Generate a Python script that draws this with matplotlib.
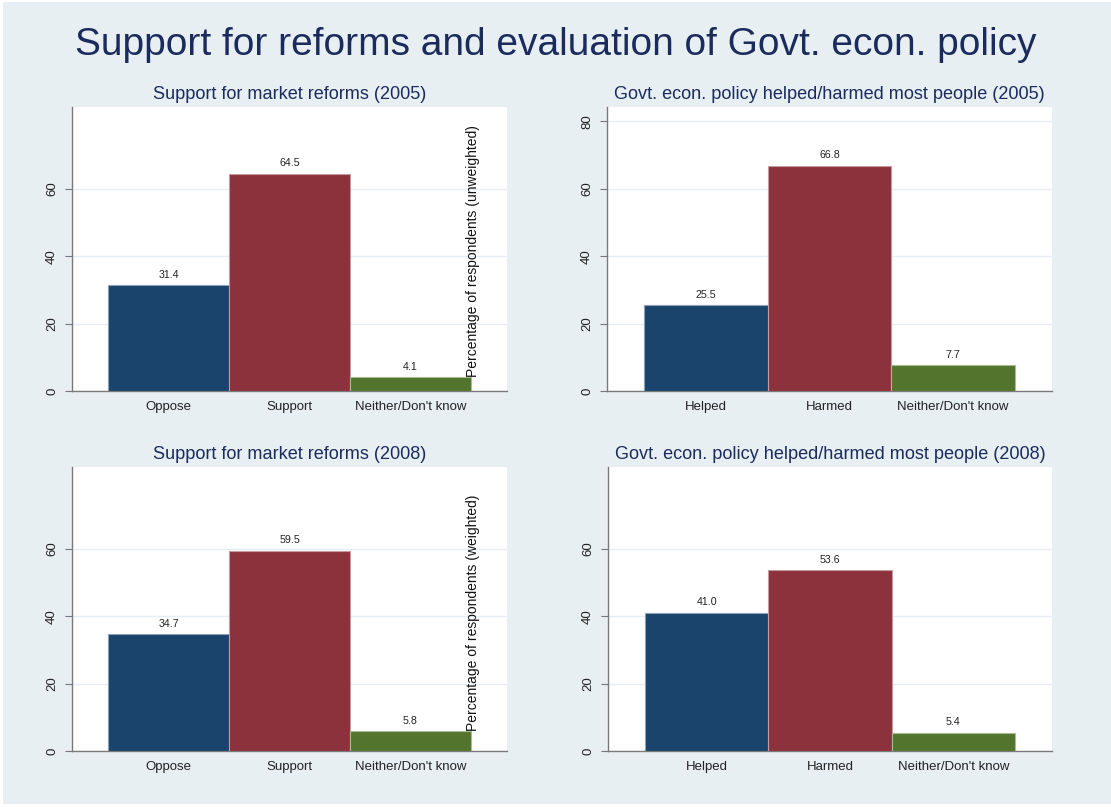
import matplotlib
matplotlib.use('Agg')
import matplotlib.pyplot as plt
from matplotlib.patches import Rectangle

plt.rcParams['font.family'] = ['Liberation Sans', 'DejaVu Sans']

reform_labels = ["Oppose", "Support", "Neither/Don't know"]
policy_labels = ["Helped", "Harmed", "Neither/Don't know"]

reform_2005 = [31.4, 64.5, 4.1]
policy_2005 = [25.5, 66.8, 7.7]
reform_2008 = [34.7, 59.5, 5.8]
policy_2008 = [41.0, 53.6, 5.4]

bar_colors = ['#1a446c', '#8c323c', '#53742d']
edge_colors = ['#8ca0b8', '#c49aa0', '#a8bb94']
bg = '#e8eff3'
navy = '#1b2b5c'

W, H = 1111, 807
fig = plt.figure(figsize=(W / 100, H / 100), dpi=100, facecolor='white')
fig.patches.append(Rectangle((3 / W, 3 / H), 1 - 3 / W, 1 - 5 / H,
                             transform=fig.transFigure, facecolor=bg,
                             edgecolor='none', zorder=-10))


def px_axes(x0, x1, y0, y1):
    # pixel box (top-left origin) -> figure axes
    return fig.add_axes([x0 / W, 1 - y1 / H, (x1 - x0) / W, (y1 - y0) / H])


def draw_panel(ax, labels, values, title, yticks, ylab=None):
    xs = range(len(values))
    ax.bar(xs, values, width=1.0, color=bar_colors, edgecolor=edge_colors,
           linewidth=0.8, zorder=3)
    for x, v in zip(xs, values):
        ax.annotate(f'{v:.1f}', (x, v), xytext=(0, 4), textcoords='offset points',
                    ha='center', va='bottom', fontsize=7.7, color='#222222')
    ax.set_xlim(-0.8, 2.8)
    ax.set_ylim(0, 84.3)
    ax.set_xticks(list(xs))
    ax.set_xticklabels(labels, fontsize=9.5, color='#222222')
    ax.tick_params(axis='x', length=0, pad=7)
    ax.set_yticks(yticks)
    ax.set_yticklabels([str(t) for t in yticks], rotation=90, va='center',
                       fontsize=9.5, color='#222222')
    ax.tick_params(axis='y', length=5, width=0.8, color='#777777', pad=5)
    ax.grid(axis='y', color='#e6eef4', linewidth=1.0, zorder=0)
    ax.set_axisbelow(True)
    for s in ['top', 'right']:
        ax.spines[s].set_visible(False)
    for s in ['left', 'bottom']:
        ax.spines[s].set_color('#7a7a7a')
        ax.spines[s].set_linewidth(1.0)
    ax.set_title(title, fontsize=13.1, color=navy, pad=6)
    if ylab:
        ax.text(2.52, values[2], ylab, rotation=90, ha='center', va='bottom',
                fontsize=10, color='#111111', zorder=4)


ax1 = px_axes(72, 507, 107, 391)
draw_panel(ax1, reform_labels, reform_2005, 'Support for market reforms (2005)',
           [0, 20, 40, 60], 'Percentage of respondents (unweighted)')

ax2 = px_axes(607, 1052, 107, 391)
draw_panel(ax2, policy_labels, policy_2005,
           'Govt. econ. policy helped/harmed most people (2005)', [0, 20, 40, 60, 80])

ax3 = px_axes(72, 507, 467, 751)
draw_panel(ax3, reform_labels, reform_2008, 'Support for market reforms (2008)',
           [0, 20, 40, 60], 'Percentage of respondents (weighted)')

ax4 = px_axes(608, 1052, 467, 751)
draw_panel(ax4, policy_labels, policy_2008,
           'Govt. econ. policy helped/harmed most people (2008)', [0, 20, 40, 60])

fig.text(0.5, 1 - 45 / H, 'Support for reforms and evaluation of Govt. econ. policy',
         ha='center', va='center', fontsize=28, color=navy)

fig.savefig('out.png', dpi=100, facecolor='white')
